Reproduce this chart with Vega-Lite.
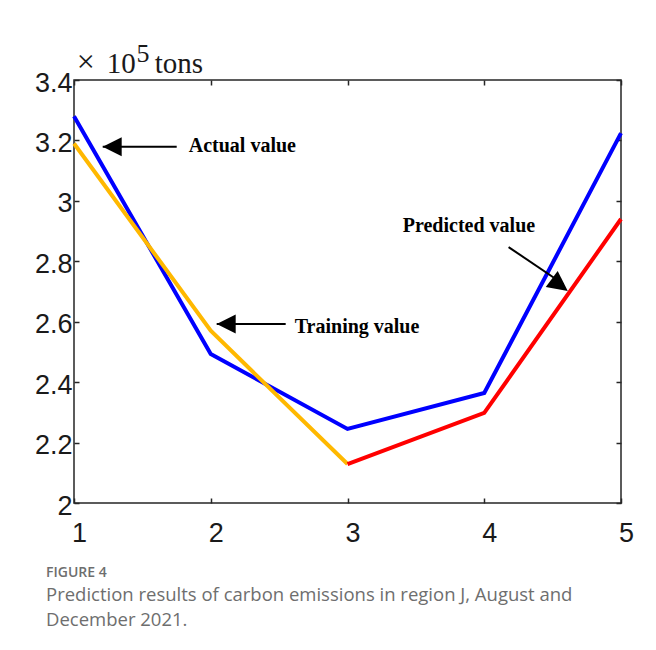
{
  "$schema": "https://vega.github.io/schema/vega-lite/v6.json",
  "width": 547,
  "height": 423,
  "autosize": {"type": "none"},
  "padding": {"left": 74, "top": 80, "right": 35, "bottom": 147},
  "background": "white",
  "title": {
    "text": "FIGURE 4",
    "subtitle": ["Prediction results of carbon emissions in region J, August and", "December 2021."],
    "orient": "bottom",
    "anchor": "start",
    "frame": "group",
    "dx": -28,
    "offset": 20,
    "font": "Open Sans",
    "fontSize": 14,
    "fontWeight": 600,
    "color": "#6e6e6e",
    "subtitleFont": "Open Sans",
    "subtitleFontSize": 18.5,
    "subtitleColor": "#6e6e6e",
    "subtitleLineHeight": 25,
    "subtitlePadding": 6
  },
  "config": {
    "view": {"stroke": "#262626", "strokeWidth": 1.5},
    "axis": {"grid": false, "domain": false, "title": null}
  },
  "datasets": {
    "series": [
      {"s": "Actual", "x": 1, "y": 3.28},
      {"s": "Actual", "x": 2, "y": 2.493},
      {"s": "Actual", "x": 3, "y": 2.245},
      {"s": "Actual", "x": 4, "y": 2.364},
      {"s": "Actual", "x": 5, "y": 3.224},
      {"s": "Training", "x": 1, "y": 3.19},
      {"s": "Training", "x": 2, "y": 2.57},
      {"s": "Training", "x": 3, "y": 2.129},
      {"s": "Predicted", "x": 3, "y": 2.129},
      {"s": "Predicted", "x": 4, "y": 2.298},
      {"s": "Predicted", "x": 5, "y": 2.94}
    ],
    "arrows": [
      {"x": 1.21, "y": 3.179, "x2": 1.751, "y2": 3.179},
      {"x": 2.0435, "y": 2.5924, "x2": 2.548, "y2": 2.5924},
      {"x": 4.178, "y": 2.847, "x2": 4.58, "y2": 2.724}
    ],
    "hheads": [
      {"x": 1.21, "y": 3.179},
      {"x": 2.0435, "y": 2.5924}
    ],
    "dheads": [
      {"x": 4.6107, "y": 2.7016}
    ],
    "notes": [
      {"x": 1.839, "y": 3.162, "t": "Actual value"},
      {"x": 2.614, "y": 2.563, "t": "Training value"},
      {"x": 3.404, "y": 2.897, "t": "Predicted value"}
    ],
    "times": [
      {"x": 1.0198, "y": 3.426, "t": "×"}
    ],
    "unit": [
      {"x": 1.239, "y": 3.423, "t": "10"},
      {"x": 1.59, "y": 3.423, "t": "tons"}
    ],
    "sup": [
      {"x": 1.457, "y": 3.4596, "t": "5"}
    ]
  },
  "resolve": {"axis": {"x": "independent", "y": "independent"}},
  "layer": [
    {
      "data": {"name": "series"},
      "mark": {"type": "line", "strokeWidth": 4},
      "encoding": {
        "x": {
          "field": "x", "type": "quantitative",
          "scale": {"domain": [1, 5], "nice": false, "zero": false},
          "axis": {
            "orient": "bottom", "values": [1, 2, 3, 4, 5], "format": "d",
            "labelFont": "Liberation Sans", "labelFontSize": 27, "labelColor": "#1a1a1a",
            "labelFlush": false, "labelPadding": 22, "labelOffset": 5,
            "tickSize": -5, "tickColor": "#262626", "tickWidth": 1.5
          }
        },
        "y": {
          "field": "y", "type": "quantitative",
          "scale": {"domain": [2, 3.4], "nice": false, "zero": false},
          "axis": {
            "orient": "left", "values": [2, 2.2, 2.4, 2.6, 2.8, 3, 3.2, 3.4], "format": "~g",
            "labelFont": "Liberation Sans", "labelFontSize": 27, "labelColor": "#1a1a1a",
            "labelFlush": false, "labelPadding": 7, "labelOffset": 3,
            "tickSize": -5, "tickColor": "#262626", "tickWidth": 1.5
          }
        },
        "color": {
          "field": "s", "type": "nominal",
          "scale": {"domain": ["Actual", "Training", "Predicted"], "range": ["#0000FF", "#FFB800", "#FF0000"]},
          "legend": null
        }
      }
    },
    {
      "data": {"name": "arrows"},
      "mark": {"type": "rule", "strokeWidth": 2, "color": "black"},
      "encoding": {
        "x": {
          "field": "x", "type": "quantitative",
          "axis": {"orient": "top", "values": [1, 2, 3, 4, 5], "labels": false, "tickSize": -5, "tickColor": "#262626", "tickWidth": 1.5}
        },
        "y": {
          "field": "y", "type": "quantitative",
          "axis": {"orient": "right", "values": [2, 2.2, 2.4, 2.6, 2.8, 3, 3.2, 3.4], "labels": false, "tickSize": -5, "tickColor": "#262626", "tickWidth": 1.5}
        },
        "x2": {"field": "x2"},
        "y2": {"field": "y2"}
      }
    },
    {
      "data": {"name": "hheads"},
      "mark": {"type": "point", "shape": "M0,0L2,-1L2,1Z", "size": 361, "filled": true, "color": "black", "opacity": 1, "strokeWidth": 0},
      "encoding": {
        "x": {"field": "x", "type": "quantitative", "axis": null},
        "y": {"field": "y", "type": "quantitative", "axis": null}
      }
    },
    {
      "data": {"name": "dheads"},
      "mark": {"type": "point", "shape": "M0,0L2,-1L2,1Z", "size": 400, "angle": 216.7, "filled": true, "color": "black", "opacity": 1, "strokeWidth": 0},
      "encoding": {
        "x": {"field": "x", "type": "quantitative", "axis": null},
        "y": {"field": "y", "type": "quantitative", "axis": null}
      }
    },
    {
      "data": {"name": "notes"},
      "mark": {"type": "text", "font": "Liberation Serif", "fontWeight": "bold", "fontSize": 20, "align": "left", "baseline": "alphabetic", "color": "black"},
      "encoding": {
        "x": {"field": "x", "type": "quantitative", "axis": null},
        "y": {"field": "y", "type": "quantitative", "axis": null},
        "text": {"field": "t"}
      }
    },
    {
      "data": {"name": "times"},
      "mark": {"type": "text", "font": "Liberation Serif", "fontSize": 32, "align": "left", "baseline": "alphabetic", "color": "#1a1a1a"},
      "encoding": {
        "x": {"field": "x", "type": "quantitative", "axis": null},
        "y": {"field": "y", "type": "quantitative", "axis": null},
        "text": {"field": "t"}
      }
    },
    {
      "data": {"name": "unit"},
      "mark": {"type": "text", "font": "Liberation Serif", "fontSize": 29, "align": "left", "baseline": "alphabetic", "color": "#1a1a1a"},
      "encoding": {
        "x": {"field": "x", "type": "quantitative", "axis": null},
        "y": {"field": "y", "type": "quantitative", "axis": null},
        "text": {"field": "t"}
      }
    },
    {
      "data": {"name": "sup"},
      "mark": {"type": "text", "font": "Liberation Serif", "fontSize": 26, "align": "left", "baseline": "alphabetic", "color": "#1a1a1a"},
      "encoding": {
        "x": {"field": "x", "type": "quantitative", "axis": null},
        "y": {"field": "y", "type": "quantitative", "axis": null},
        "text": {"field": "t"}
      }
    }
  ]
}
